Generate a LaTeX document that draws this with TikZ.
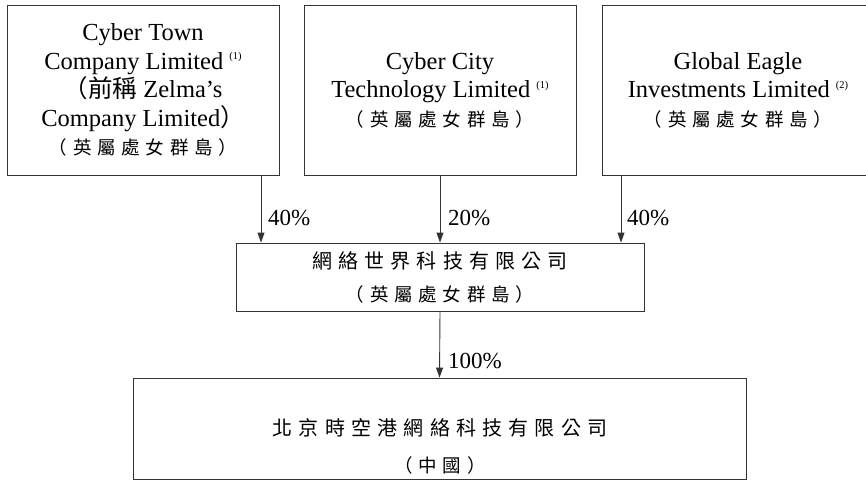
\documentclass[tikz,border=0pt]{standalone}
\usepackage{fontspec}
\setmainfont{Liberation Serif}
\newfontfamily\cjk[LetterSpace=31]{Noto Sans CJK TC}
\newfontfamily\cjkn{Noto Sans CJK TC}
\usetikzlibrary{arrows.meta}
\newcommand{\notemark}[1]{{\fontsize{10.5}{10.5}\selectfont\raisebox{9.5pt}{(#1)}}}
\newcommand{\bvi}{{\fontsize{18.5}{20}\selectfont\cjk （英屬處女群島）}}
\tikzset{
  box/.style={draw=black!80, line width=0.9pt, inner sep=0pt, align=center, font=\fontsize{24.5}{28.5}\selectfont},
  txt/.style={inner sep=0pt, align=center},
  arr/.style={draw=black!80, line width=0.9pt, -{Triangle[length=10pt,width=7pt]}},
  pct/.style={font=\fontsize{23}{28}\selectfont, anchor=west, inner sep=0pt}
}
\begin{document}
\begin{tikzpicture}[x=1pt,y=-1pt]
\useasboundingbox (0,0) rectangle (866,480);
\clip (0,0) rectangle (866,480);
\fill[white] (0,0) rectangle (866,480);

\node[box, minimum width=272pt, minimum height=170pt] (b1) at (143,90)
  {Cyber Town\\Company Limited \notemark{1}\\{\cjkn （前稱} Zelma’s\\Company Limited{\cjkn ）}\\\bvi};
\node[box, minimum width=272pt, minimum height=170pt] (b2) at (440,90)
  {Cyber City\\Technology Limited \notemark{1}\\\bvi};
\node[box, minimum width=272pt, minimum height=170pt] (b3) at (738,90)
  {Global Eagle\\Investments Limited \notemark{2}\\\bvi};

\node[box, minimum width=408pt, minimum height=68pt, font=\fontsize{20}{33}\selectfont] (mid) at (440,277)
  {{\cjk 網絡世界科技有限公司}\\\bvi};

\node[box, minimum width=613pt, minimum height=101pt] (bot) at (439.5,428.5) {};
\node[txt, font=\fontsize{20}{37}\selectfont] (bott) at (440,446)
  {{\cjk 北京時空港網絡科技有限公司}\\{\fontsize{18.5}{20}\selectfont\cjk （中國）}};

\coordinate (c1) at (261,0);
\coordinate (c2) at (440,0);
\coordinate (c3) at (621,0);
\draw[arr] (b1.south -| c1) -- (mid.north -| c1);
\draw[arr] (b2.south -| c2) -- (mid.north -| c2);
\draw[arr] (b3.south -| c3) -- (mid.north -| c3);
\draw[arr] (mid.south) -- (bot.north);

\node[pct] (p1) at (268,218) {40\%};
\node[pct] (p2) at (448,218) {20\%};
\node[pct] (p3) at (627,218) {40\%};
\node[pct] (p4) at (448,361) {100\%};
\end{tikzpicture}
\end{document}
